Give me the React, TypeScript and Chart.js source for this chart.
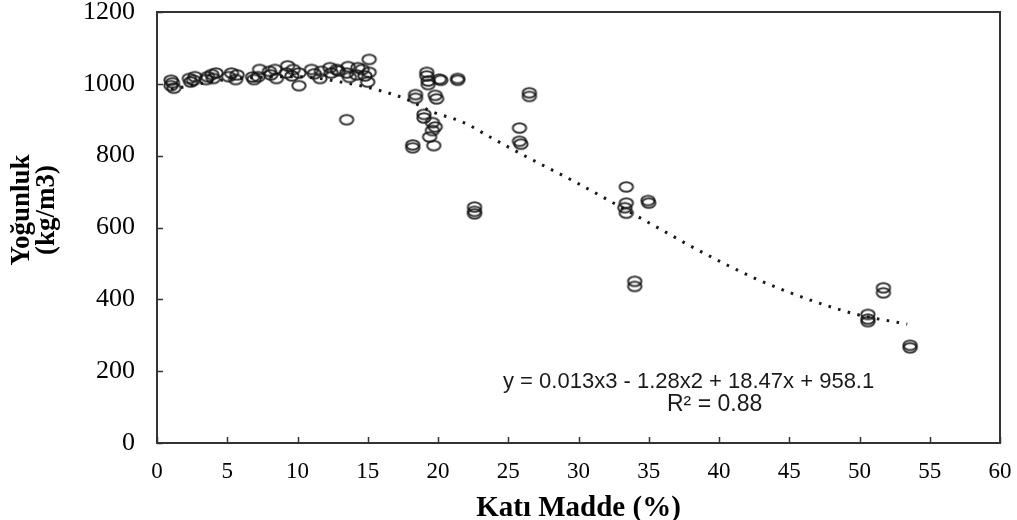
import React, { useEffect, useRef } from "react";
import { Chart, registerables } from "chart.js";

Chart.register(...registerables);

// Scatter measurements (Katı Madde %, Yoğunluk kg/m3)
const pointX: number[] = [
  1.0, 1.0, 1.1, 1.2, 2.3, 2.4, 2.7, 2.6, 3.5, 3.6, 3.9, 4.0, 4.2,
  5.1, 5.3, 5.6, 5.7, 6.8, 6.9, 7.3, 7.2, 8.0, 8.1, 8.4, 8.5,
  9.2, 9.3, 9.7, 9.6, 10.1, 10.1, 11.0, 11.2, 11.6, 11.7,
  12.3, 12.4, 12.8, 12.9, 13.6, 13.5, 13.7, 13.5, 14.2, 14.3, 14.6, 14.8,
  15.1, 15.1, 15.0,
  18.2, 18.2, 18.4, 18.4, 19.2, 19.2, 19.3, 19.3, 19.0, 19.0, 19.6, 19.6,
  19.4, 19.7, 19.8, 19.8, 19.9, 20.1, 20.2, 21.4, 21.4,
  22.6, 22.6, 22.6, 25.8, 25.8, 25.9, 26.5, 26.5,
  33.4, 33.4, 33.3, 33.4, 34.95, 35.0, 34.0, 34.0,
  51.7, 51.7, 50.6, 50.6, 50.6, 53.6, 53.6,
];
const pointY: number[] = [
  1010, 995, 1003, 988, 1015, 1005, 1020, 1010, 1012, 1020, 1026, 1015, 1030,
  1020, 1030, 1012, 1025, 1019, 1012, 1040, 1020, 1035, 1025, 1040, 1015,
  1030, 1050, 1040, 1022, 995, 1030, 1040, 1028, 1015, 1035,
  1045, 1030, 1040, 1036, 1048, 1030, 1018, 900, 1025, 1045, 1040, 1022,
  1068, 1032, 1005,
  830, 822, 970, 960, 1032, 1022, 1008, 998, 915, 905, 892, 870,
  852, 828, 880, 968, 958, 1013, 1010, 1015, 1010,
  657, 645, 638, 877, 840, 832, 975, 965,
  713, 668, 655, 640, 675, 668, 450, 436,
  432, 418, 358, 345, 338, 272, 265,
];

// Polynomial trendline
const trendX: number[] = [1, 5, 10, 13.5, 15.7, 17.7, 19.6, 21.8, 23.7, 26.3, 29.9, 33.0, 36.3, 37.9, 40.3, 42.7, 45.1, 47.4, 49.8, 53.4];
const trendY: number[] = [985, 1012, 1020, 1002, 983, 958, 922, 893, 852, 797, 724, 657, 585, 550, 501, 456, 418, 386, 358, 331];

const xTicks = { min: 0, max: 60, step: 5 };
const yTicks = { min: 0, max: 1200, step: 200 };

const xTitle = "Katı Madde (%)";
const yTitle = ["Yoğunluk", "(kg/m3)"];
const equationText = "y = 0.013x3 - 1.28x2 + 18.47x + 958.1";
const r2Text = "R² = 0.88";

const SERIF = "'Liberation Serif', 'Times New Roman', serif";
const SANS = "'Liberation Sans', Arial, sans-serif";

function makeEllipse(): HTMLCanvasElement {
  const c = document.createElement("canvas");
  c.width = 18;
  c.height = 14;
  const g = c.getContext("2d")!;
  g.strokeStyle = "rgba(20,20,20,0.85)";
  g.lineWidth = 2;
  g.beginPath();
  g.ellipse(9, 7, 6.7, 4.7, 0, 0, Math.PI * 2);
  g.stroke();
  return c;
}

const framePlugin = {
  id: "frameAndText",
  afterDraw(chart: any) {
    const { ctx, chartArea } = chart;
    const xs = chart.scales.x;
    const ys = chart.scales.y;
    ctx.save();
    ctx.strokeStyle = "#333";
    ctx.lineWidth = 2;
    ctx.strokeRect(chartArea.left, chartArea.top, chartArea.right - chartArea.left, chartArea.bottom - chartArea.top);
    ctx.lineWidth = 1.5;
    ctx.beginPath();
    for (let v = xTicks.min; v <= xTicks.max; v += xTicks.step) {
      const px = Math.round(xs.getPixelForValue(v)) + 0.5;
      ctx.moveTo(px, chartArea.bottom);
      ctx.lineTo(px, chartArea.bottom - 6);
    }
    for (let v = yTicks.min; v <= yTicks.max; v += yTicks.step) {
      const py = Math.round(ys.getPixelForValue(v)) + 0.5;
      ctx.moveTo(chartArea.left, py);
      ctx.lineTo(chartArea.left + 6, py);
    }
    ctx.stroke();

    // equation
    ctx.fillStyle = "#1a1a1a";
    ctx.font = `22px ${SANS}`;
    ctx.textAlign = "left";
    ctx.textBaseline = "middle";
    ctx.fillText(equationText, 503, 382);
    ctx.font = `23px ${SANS}`;
    ctx.fillText(r2Text, 667, 405);

    // y-axis title (two lines, rotated)
    ctx.fillStyle = "#000";
    ctx.font = `bold 27px ${SERIF}`;
    ctx.textAlign = "center";
    ctx.textBaseline = "middle";
    const xsPos = [22, 47];
    yTitle.forEach((line, i) => {
      ctx.save();
      ctx.translate(xsPos[i], 210);
      ctx.rotate(-Math.PI / 2);
      ctx.fillText(line, 0, 0);
      ctx.restore();
    });
    ctx.restore();
  },
};

export default function App() {
  const ref = useRef<HTMLCanvasElement | null>(null);
  useEffect(() => {
    document.body.style.margin = "0";
    const marker = makeEllipse();
    const scatterData = pointX.map((x, i) => ({ x, y: pointY[i] }));
    const trendData = trendX.map((x, i) => ({ x, y: trendY[i] }));
    const chart = new Chart(ref.current!, {
      type: "scatter",
      data: {
        datasets: [
          {
            label: "Yoğunluk",
            data: scatterData,
            pointStyle: marker as any,
            pointRadius: 7,
            showLine: false,
          },
          {
            label: "Trend",
            data: trendData,
            showLine: true,
            borderColor: "#1a1a1a",
            borderWidth: 3,
            borderDash: [2.6, 7.4],
            borderCapStyle: "butt",
            pointRadius: 0,
            cubicInterpolationMode: "monotone",
            fill: false,
          } as any,
        ],
      },
      options: {
        animation: false,
        responsive: false,
        devicePixelRatio: 1,
        layout: { padding: { left: 8, right: 0, top: 0, bottom: 0 } },
        plugins: { legend: { display: false }, tooltip: { enabled: false } },
        scales: {
          x: {
            type: "linear",
            min: xTicks.min,
            max: xTicks.max,
            afterFit: (s: any) => { s.height = 77; s.paddingRight = 17; s.paddingLeft = 0; },
            ticks: { stepSize: xTicks.step, color: "#000", padding: 15, font: { family: SERIF, size: 23 }, callback: (v: any) => String(v) },
            grid: { display: false, drawTicks: false },
            border: { display: false },
            title: { display: true, text: xTitle, color: "#000", font: { family: SERIF, size: 29, weight: "bold", lineHeight: 0.8 }, padding: { top: 0, bottom: 0 } },
          },
          y: {
            type: "linear",
            min: yTicks.min,
            max: yTicks.max,
            afterFit: (s: any) => { s.width = 149; s.paddingTop = 12; s.paddingBottom = 0; },
            ticks: { stepSize: yTicks.step, color: "#000", padding: 22, font: { family: SERIF, size: 26 }, callback: (v: any) => String(v) },
            grid: { display: false, drawTicks: false },
            border: { display: false },
            title: { display: false },
          },
        },
      },
      plugins: [framePlugin],
    } as any);
    return () => chart.destroy();
  }, []);
  return (
    <div style={{ width: 1017, height: 520, background: "#fff" }}>
      <canvas ref={ref} width={1017} height={520} style={{ display: "block" }} />
    </div>
  );
}
